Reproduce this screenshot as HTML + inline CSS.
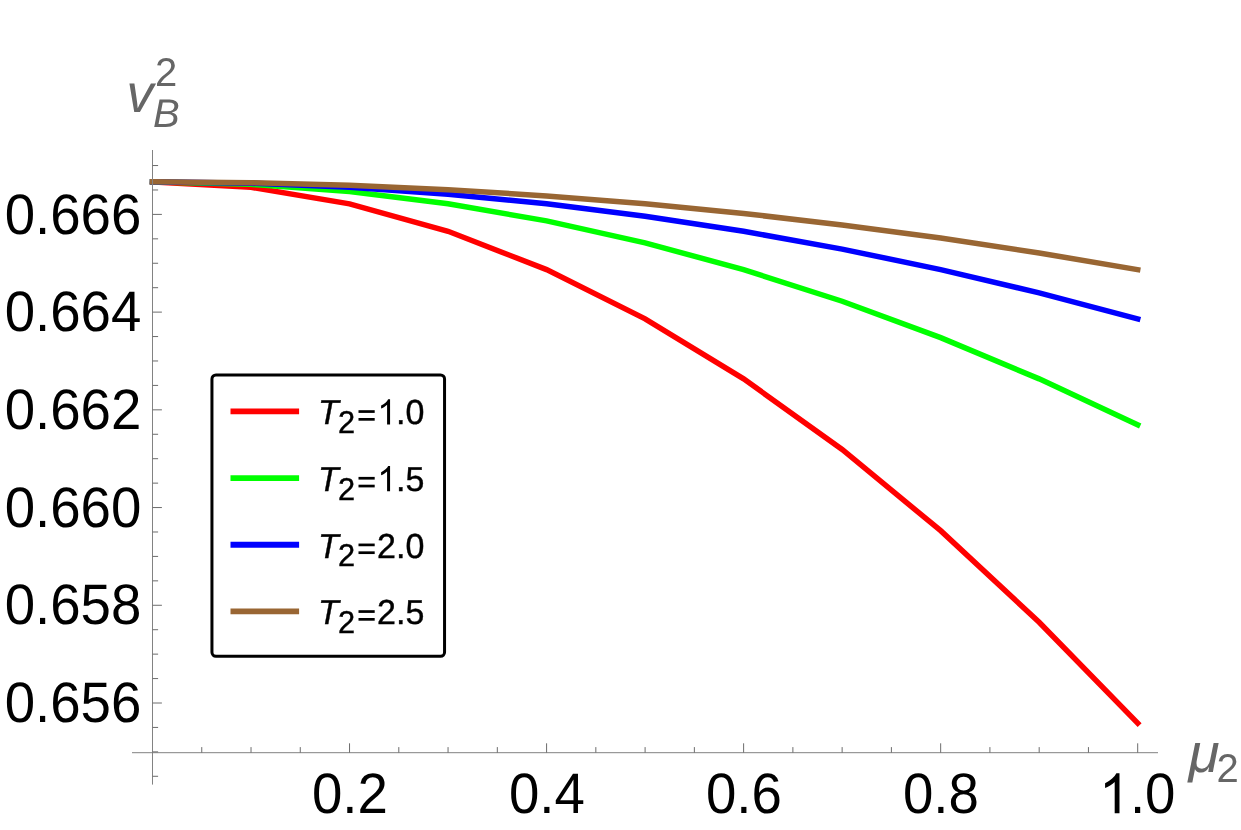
<!DOCTYPE html>
<html><head><meta charset="utf-8"><title>plot</title>
<style>
html,body{margin:0;padding:0;background:#fff;}
body{width:1241px;height:830px;overflow:hidden;font-family:"Liberation Sans",sans-serif;}
svg{display:block;}
text{font-family:"Liberation Sans",sans-serif;text-rendering:geometricPrecision;}
.tl{font-size:55px;fill:#000;}
.ax{stroke:#828282;stroke-width:1.0;fill:none;}
.ax .tk{stroke:#6c6c6c;}
.al{fill:#666;font-style:italic;}
</style></head>
<body>
<svg style="will-change:opacity" width="1241" height="830" viewBox="0 0 1241 830">
<polyline points="152.50,181.83 251.02,187.33 349.54,203.82 448.06,231.27 546.58,269.64 645.10,318.86 743.62,378.84 842.14,449.49 940.66,530.68 1039.18,622.28 1137.70,723.10" fill="none" stroke="#ff0000" stroke-width="5.5" stroke-linecap="square" stroke-linejoin="miter"/>
<polyline points="152.50,181.83 251.02,184.27 349.54,191.60 448.06,203.82 546.58,220.90 645.10,242.85 743.62,269.64 842.14,301.25 940.66,337.66 1039.18,378.84 1137.70,424.76" fill="none" stroke="#00ff00" stroke-width="5.5" stroke-linecap="square" stroke-linejoin="miter"/>
<polyline points="152.50,181.83 251.02,183.20 349.54,187.33 448.06,194.20 546.58,203.82 645.10,216.18 743.62,231.27 842.14,249.09 940.66,269.64 1039.18,292.90 1137.70,318.86" fill="none" stroke="#0000ff" stroke-width="5.5" stroke-linecap="square" stroke-linejoin="miter"/>
<polyline points="152.50,181.83 251.02,182.71 349.54,185.35 448.06,189.75 546.58,195.90 645.10,203.82 743.62,213.48 842.14,224.90 940.66,238.07 1039.18,252.98 1137.70,269.64" fill="none" stroke="#996633" stroke-width="5.5" stroke-linecap="square" stroke-linejoin="miter"/>
<g class="ax">
<line x1="132" y1="752.7" x2="1158" y2="752.7"/>
<line x1="152.5" y1="150" x2="152.5" y2="784.6"/>
<line class="tk" x1="201.76" y1="752.7" x2="201.76" y2="747.1"/>
<line class="tk" x1="251.02" y1="752.7" x2="251.02" y2="747.1"/>
<line class="tk" x1="300.28" y1="752.7" x2="300.28" y2="747.1"/>
<line class="tk" x1="349.54" y1="752.7" x2="349.54" y2="743.3000000000001"/>
<line class="tk" x1="398.80" y1="752.7" x2="398.80" y2="747.1"/>
<line class="tk" x1="448.06" y1="752.7" x2="448.06" y2="747.1"/>
<line class="tk" x1="497.32" y1="752.7" x2="497.32" y2="747.1"/>
<line class="tk" x1="546.58" y1="752.7" x2="546.58" y2="743.3000000000001"/>
<line class="tk" x1="595.84" y1="752.7" x2="595.84" y2="747.1"/>
<line class="tk" x1="645.10" y1="752.7" x2="645.10" y2="747.1"/>
<line class="tk" x1="694.36" y1="752.7" x2="694.36" y2="747.1"/>
<line class="tk" x1="743.62" y1="752.7" x2="743.62" y2="743.3000000000001"/>
<line class="tk" x1="792.88" y1="752.7" x2="792.88" y2="747.1"/>
<line class="tk" x1="842.14" y1="752.7" x2="842.14" y2="747.1"/>
<line class="tk" x1="891.40" y1="752.7" x2="891.40" y2="747.1"/>
<line class="tk" x1="940.66" y1="752.7" x2="940.66" y2="743.3000000000001"/>
<line class="tk" x1="989.92" y1="752.7" x2="989.92" y2="747.1"/>
<line class="tk" x1="1039.18" y1="752.7" x2="1039.18" y2="747.1"/>
<line class="tk" x1="1088.44" y1="752.7" x2="1088.44" y2="747.1"/>
<line class="tk" x1="1137.70" y1="752.7" x2="1137.70" y2="743.3000000000001"/>
<line class="tk" x1="152.5" y1="776.29" x2="158.1" y2="776.29"/>
<line class="tk" x1="152.5" y1="751.86" x2="158.1" y2="751.86"/>
<line class="tk" x1="152.5" y1="727.43" x2="158.1" y2="727.43"/>
<line class="tk" x1="152.5" y1="703.00" x2="161.9" y2="703.00"/>
<line class="tk" x1="152.5" y1="678.57" x2="158.1" y2="678.57"/>
<line class="tk" x1="152.5" y1="654.14" x2="158.1" y2="654.14"/>
<line class="tk" x1="152.5" y1="629.71" x2="158.1" y2="629.71"/>
<line class="tk" x1="152.5" y1="605.28" x2="161.9" y2="605.28"/>
<line class="tk" x1="152.5" y1="580.85" x2="158.1" y2="580.85"/>
<line class="tk" x1="152.5" y1="556.42" x2="158.1" y2="556.42"/>
<line class="tk" x1="152.5" y1="531.99" x2="158.1" y2="531.99"/>
<line class="tk" x1="152.5" y1="507.56" x2="161.9" y2="507.56"/>
<line class="tk" x1="152.5" y1="483.13" x2="158.1" y2="483.13"/>
<line class="tk" x1="152.5" y1="458.70" x2="158.1" y2="458.70"/>
<line class="tk" x1="152.5" y1="434.27" x2="158.1" y2="434.27"/>
<line class="tk" x1="152.5" y1="409.84" x2="161.9" y2="409.84"/>
<line class="tk" x1="152.5" y1="385.41" x2="158.1" y2="385.41"/>
<line class="tk" x1="152.5" y1="360.98" x2="158.1" y2="360.98"/>
<line class="tk" x1="152.5" y1="336.55" x2="158.1" y2="336.55"/>
<line class="tk" x1="152.5" y1="312.12" x2="161.9" y2="312.12"/>
<line class="tk" x1="152.5" y1="287.69" x2="158.1" y2="287.69"/>
<line class="tk" x1="152.5" y1="263.26" x2="158.1" y2="263.26"/>
<line class="tk" x1="152.5" y1="238.83" x2="158.1" y2="238.83"/>
<line class="tk" x1="152.5" y1="214.40" x2="161.9" y2="214.40"/>
<line class="tk" x1="152.5" y1="189.97" x2="158.1" y2="189.97"/>
<line class="tk" x1="152.5" y1="165.54" x2="158.1" y2="165.54"/>
</g>
<text transform="translate(141.30 233.55) scale(1.004 1.05)" font-size="54.4" text-anchor="end" fill="#000">0.666</text>
<text transform="translate(141.30 331.27) scale(1.004 1.05)" font-size="54.4" text-anchor="end" fill="#000">0.664</text>
<text transform="translate(141.30 428.99) scale(1.004 1.05)" font-size="54.4" text-anchor="end" fill="#000">0.662</text>
<text transform="translate(141.30 526.71) scale(1.004 1.05)" font-size="54.4" text-anchor="end" fill="#000">0.660</text>
<text transform="translate(141.30 624.43) scale(1.004 1.05)" font-size="54.4" text-anchor="end" fill="#000">0.658</text>
<text transform="translate(141.30 722.15) scale(1.004 1.05)" font-size="54.4" text-anchor="end" fill="#000">0.656</text>
<text transform="translate(349.84 813.30) scale(1.004 1.05)" font-size="54.4" text-anchor="middle" fill="#000">0.2</text>
<text transform="translate(546.88 813.30) scale(1.004 1.05)" font-size="54.4" text-anchor="middle" fill="#000">0.4</text>
<text transform="translate(743.92 813.30) scale(1.004 1.05)" font-size="54.4" text-anchor="middle" fill="#000">0.6</text>
<text transform="translate(940.96 813.30) scale(1.004 1.05)" font-size="54.4" text-anchor="middle" fill="#000">0.8</text>
<path transform="translate(1099.14 813.30) scale(0.026669 -0.027200)" d="M763 0H583V1147Q518 1085 412.5 1023T223 930V1104Q374 1175 487 1276T647 1472H763Z" fill="#000"/>
<text transform="translate(1129.91 813.30) scale(1.004 1.05)" font-size="54.4" fill="#000">.0</text>
<text transform="translate(126.60 111.50) scale(1.0 1.0)" font-size="54" font-style="italic" fill="#666">v</text>
<text transform="translate(153.00 126.50) scale(1.0 1.0)" font-size="40" font-style="italic" fill="#666">B</text>
<text transform="translate(155.00 85.50) scale(1.0 1.0)" font-size="40" fill="#666">2</text>
<text transform="translate(1188.40 771.80) scale(1.03 1.0)" font-size="55" font-style="italic" fill="#666">μ</text>
<text transform="translate(1216.60 781.50) scale(1.0 1.0)" font-size="40" fill="#666">2</text>
<rect x="211.95" y="374.9" width="232.6" height="281.4" rx="4" ry="4" fill="#fff" stroke="#000" stroke-width="3"/>
<line x1="230.5" y1="411.40" x2="299.1" y2="411.40" stroke="#ff0000" stroke-width="5.8"/>
<text transform="translate(318.05 424.45) scale(1.0 1.02)" font-size="34" font-style="italic" stroke="#000" stroke-width="0.4" fill="#000">T</text>
<text transform="translate(337.96 432.85) scale(1.0 1.03)" font-size="30.7" stroke="#000" stroke-width="0.4" fill="#000">2</text>
<rect x="358.5" y="410.20" width="16.2" height="2.7" fill="#000"/><rect x="358.5" y="418.00" width="16.2" height="2.7" fill="#000"/>
<path transform="translate(377.40 424.45) scale(0.016602 -0.017100)" d="M763 0H583V1147Q518 1085 412.5 1023T223 930V1104Q374 1175 487 1276T647 1472H763Z" fill="#000"/>
<text transform="translate(396.11 424.45) scale(1.0 1.02)" font-size="34" stroke="#000" stroke-width="0.4" fill="#000">.0</text>
<line x1="230.5" y1="478.10" x2="299.1" y2="478.10" stroke="#00ff00" stroke-width="5.8"/>
<text transform="translate(318.05 491.15) scale(1.0 1.02)" font-size="34" font-style="italic" stroke="#000" stroke-width="0.4" fill="#000">T</text>
<text transform="translate(337.96 499.55) scale(1.0 1.03)" font-size="30.7" stroke="#000" stroke-width="0.4" fill="#000">2</text>
<rect x="358.5" y="476.90" width="16.2" height="2.7" fill="#000"/><rect x="358.5" y="484.70" width="16.2" height="2.7" fill="#000"/>
<path transform="translate(377.40 491.15) scale(0.016602 -0.017100)" d="M763 0H583V1147Q518 1085 412.5 1023T223 930V1104Q374 1175 487 1276T647 1472H763Z" fill="#000"/>
<text transform="translate(396.11 491.15) scale(1.0 1.02)" font-size="34" stroke="#000" stroke-width="0.4" fill="#000">.5</text>
<line x1="230.5" y1="544.75" x2="299.1" y2="544.75" stroke="#0000ff" stroke-width="5.8"/>
<text transform="translate(318.05 557.80) scale(1.0 1.02)" font-size="34" font-style="italic" stroke="#000" stroke-width="0.4" fill="#000">T</text>
<text transform="translate(337.96 566.20) scale(1.0 1.03)" font-size="30.7" stroke="#000" stroke-width="0.4" fill="#000">2</text>
<rect x="358.5" y="543.55" width="16.2" height="2.7" fill="#000"/><rect x="358.5" y="551.35" width="16.2" height="2.7" fill="#000"/>
<text transform="translate(377.10 557.80) scale(1.0 1.02)" font-size="34" stroke="#000" stroke-width="0.4" fill="#000">2.0</text>
<line x1="230.5" y1="611.40" x2="299.1" y2="611.40" stroke="#996633" stroke-width="5.8"/>
<text transform="translate(318.05 624.45) scale(1.0 1.02)" font-size="34" font-style="italic" stroke="#000" stroke-width="0.4" fill="#000">T</text>
<text transform="translate(337.96 632.85) scale(1.0 1.03)" font-size="30.7" stroke="#000" stroke-width="0.4" fill="#000">2</text>
<rect x="358.5" y="610.20" width="16.2" height="2.7" fill="#000"/><rect x="358.5" y="618.00" width="16.2" height="2.7" fill="#000"/>
<text transform="translate(377.10 624.45) scale(1.0 1.02)" font-size="34" stroke="#000" stroke-width="0.4" fill="#000">2.5</text>
</svg>
</body></html>
